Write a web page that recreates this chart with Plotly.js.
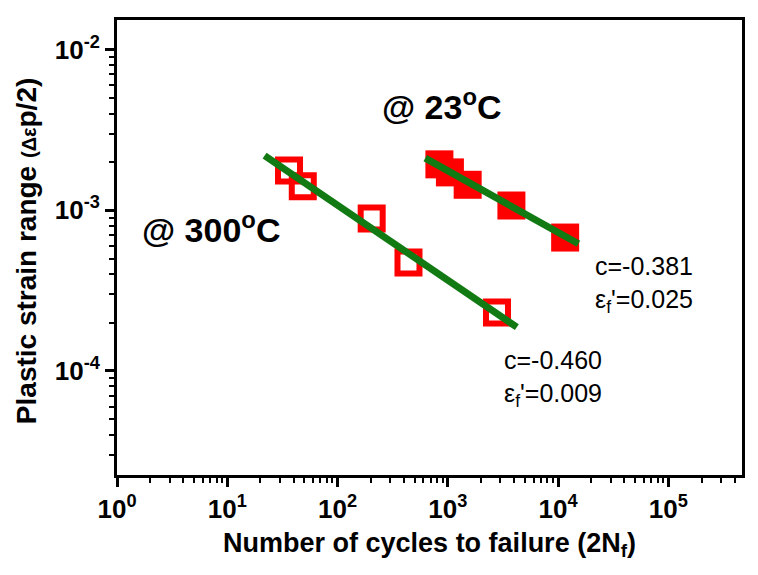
<!DOCTYPE html>
<html>
<head>
<meta charset="utf-8">
<script src="https://cdn.plot.ly/plotly-3.0.1.min.js"></script>
<style>html,body{margin:0;padding:0;background:#fff;}#chart{width:758px;height:575px;}</style>
</head>
<body>
<div id="chart"></div>
<script>
// Data
const cycles300 = [36.3, 48.4, 204, 440, 2793];
const strain300 = [1.77e-3, 1.41e-3, 8.87e-4, 4.72e-4, 2.31e-4];
const cycles23 = [839, 1045, 1514, 3774, 11590];
const strain23 = [1.93e-3, 1.72e-3, 1.44e-3, 1.07e-3, 6.76e-4];
const fitCycles300 = [21.8, 4230];
const fitStrain300 = [2.19e-3, 1.87e-4];
const fitCycles23 = [624, 15310];
const fitStrain23 = [2.11e-3, 6.18e-4];

// Tick values and labels
const xTickVals = [1, 10, 100, 1000, 10000, 100000];
const xTickText = ["10<sup>0</sup>", "10<sup>1</sup>", "10<sup>2</sup>", "10<sup>3</sup>", "10<sup>4</sup>", "10<sup>5</sup>"];
const yTickVals = [1e-4, 1e-3, 1e-2];
const yTickText = ["10<sup>-4</sup>", "10<sup>-3</sup>", "10<sup>-2</sup>"];

const labels = {
  xTitle: "Number of cycles to failure (2N<sub>f</sub>)",
  yTitle: "Plastic strain range <span style='font-size:20px'>(Δε</span>p/2)",
  t23: "@ 23<sup>o</sup>C",
  t300: "@ 300<sup>o</sup>C",
  fit23: "c=-0.381<br>ε<sub>f</sub>'=0.025",
  fit300: "c=-0.460<br>ε<sub>f</sub>'=0.009"
};

function minorVals(lo, hi) {
  const out = [];
  for (let e = lo; e <= hi; e++) {
    for (let m = 2; m <= 9; m++) out.push(m * Math.pow(10, e));
  }
  return out;
}

const FONT = "Liberation Sans, Arial, sans-serif";
const green = "#127a12";

const traces = [
  {x: cycles300, y: strain300, mode: "markers", type: "scatter",
   marker: {symbol: "square-open", size: 22, color: "#ff0000", line: {color: "#ff0000", width: 6}}},
  {x: cycles23, y: strain23, mode: "markers", type: "scatter",
   marker: {symbol: "square", size: 28, color: "#ff0000", line: {width: 0}}},
  {x: fitCycles300, y: fitStrain300, mode: "lines", type: "scatter",
   line: {color: green, width: 7}},
  {x: fitCycles23, y: fitStrain23, mode: "lines", type: "scatter",
   line: {color: green, width: 7}}
];

function axisBase() {
  return {
    type: "log",
    tickmode: "array",
    showgrid: false,
    zeroline: false,
    showline: true,
    linecolor: "#000",
    linewidth: 3,
    mirror: true,
    ticks: "outside",
    ticklen: 9,
    tickwidth: 3,
    tickcolor: "#000",
    tickfont: {family: FONT, size: 26, color: "#000", weight: "bold"},
    automargin: false
  };
}

const layout = {
  width: 758, height: 575,
  margin: {l: 117, r: 16, t: 20, b: 100},
  paper_bgcolor: "#fff", plot_bgcolor: "#fff",
  showlegend: false,
  xaxis: Object.assign(axisBase(), {
    range: [0, 5.668],
    tickvals: xTickVals, ticktext: xTickText,
    minor: {tickmode: "array", tickvals: minorVals(0, 5), ticks: "outside", ticklen: 5, tickwidth: 2, tickcolor: "#000", showgrid: false},
    title: {text: labels.xTitle, standoff: 10,
            font: {family: FONT, size: 27, color: "#000", weight: "bold"}}
  }),
  yaxis: Object.assign(axisBase(), {
    range: [-4.648, -1.816],
    tickvals: yTickVals, ticktext: yTickText,
    minor: {tickmode: "array", tickvals: minorVals(-5, -2), ticks: "outside", ticklen: 5, tickwidth: 2, tickcolor: "#000", showgrid: false}
  }),
  annotations: [
    {text: labels.yTitle, xref: "paper", yref: "paper", x: -0.1456, y: 0.492, xanchor: "center", yanchor: "middle",
     textangle: -90, showarrow: false, font: {family: FONT, size: 28, color: "#000", weight: "bold"}},
    {text: labels.t23, xref: "paper", yref: "paper", x: 0.421, y: 0.815, xanchor: "left", yanchor: "middle",
     showarrow: false, font: {family: FONT, size: 34, color: "#000", weight: "bold"}},
    {text: labels.t300, xref: "paper", yref: "paper", x: 0.037, y: 0.543, xanchor: "left", yanchor: "middle",
     showarrow: false, font: {family: FONT, size: 34, color: "#000", weight: "bold"}},
    {text: labels.fit23, xref: "paper", yref: "paper", x: 0.762, y: 0.418, xanchor: "left", yanchor: "middle",
     align: "left", showarrow: false, font: {family: FONT, size: 25, color: "#000"}},
    {text: labels.fit300, xref: "paper", yref: "paper", x: 0.616, y: 0.213, xanchor: "left", yanchor: "middle",
     align: "left", showarrow: false, font: {family: FONT, size: 25, color: "#000"}}
  ]
};

Plotly.newPlot("chart", traces, layout, {displayModeBar: false, staticPlot: true});
</script>
</body>
</html>
